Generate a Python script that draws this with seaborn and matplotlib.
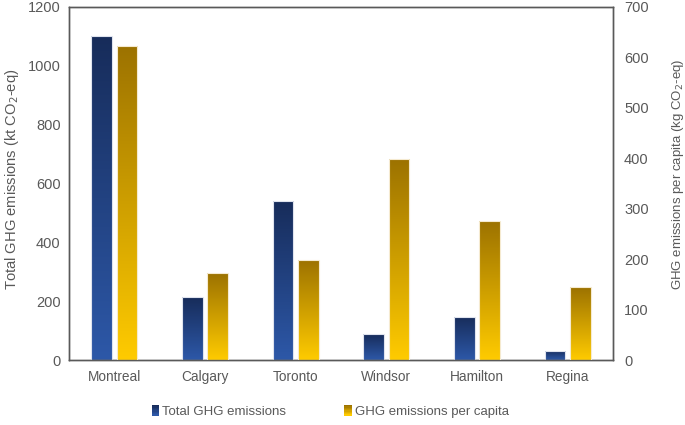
import numpy as np
import pandas as pd
import matplotlib
matplotlib.use("Agg")
import matplotlib.pyplot as plt
import seaborn as sns
from matplotlib.colors import LinearSegmentedColormap
from matplotlib.patches import Rectangle
from matplotlib.legend_handler import HandlerBase

cities = ["Montreal", "Calgary", "Toronto", "Windsor", "Hamilton", "Regina"]
total_ghg = [1100, 213, 541, 87, 147, 32]
per_capita = [623, 172, 199, 399, 276, 144]
series = ["Total GHG emissions", "GHG emissions per capita"]
left_ticks = [0, 200, 400, 600, 800, 1000, 1200]
right_ticks = [0, 100, 200, 300, 400, 500, 600, 700]

blue_top, blue_bot = "#172c5a", "#2d58a8"
gold_top, gold_bot = "#9c7200", "#ffcb00"
txt = "#595959"

sns.set_theme(style="white")
plt.rcParams["font.family"] = ["Liberation Sans", "DejaVu Sans"]

df1 = pd.DataFrame({"city": cities, "value": total_ghg, "series": series[0]})
df2 = pd.DataFrame({"city": cities, "value": per_capita, "series": series[1]})

fig = plt.figure(figsize=(6.85, 4.25), dpi=100)
ax = fig.add_axes([69/685, 1-360/425, (613-69)/685, (360-7)/425])
ax2 = ax.twinx()

sns.barplot(data=df1, x="city", y="value", hue="series", hue_order=series,
            order=cities, width=0.56, gap=0.19, palette=[blue_bot, gold_bot],
            dodge=True, legend=False, ax=ax, errorbar=None)
sns.barplot(data=df2, x="city", y="value", hue="series", hue_order=series,
            order=cities, width=0.56, gap=0.19, palette=[blue_bot, gold_bot],
            dodge=True, legend=False, ax=ax2, errorbar=None)

def gradient_bars(a, top, bot, edge):
    cmap = LinearSegmentedColormap.from_list("g", [top, bot])
    grad = np.linspace(0, 1, 256).reshape(-1, 1)
    for p in list(a.patches):
        x, y = p.get_x(), p.get_y()
        w, h = p.get_width(), p.get_height()
        if h <= 0 or np.isnan(h):
            continue
        im = a.imshow(grad, cmap=cmap, aspect="auto", origin="upper",
                      extent=(x, x + w, y, y + h), zorder=2)
        im.set_clip_path(p)
        p.set_facecolor("none")
        p.set_edgecolor(edge)
        p.set_linewidth(0.8)
        p.set_zorder(3)

gradient_bars(ax, blue_top, blue_bot, "#dfe3ee")
gradient_bars(ax2, gold_top, gold_bot, "#f5ead0")
ax.set_xlim(-0.5, 5.5)
ax.set_ylim(0, 1200)
ax2.set_ylim(0, 700)

ax.set_yticks(left_ticks)
ax2.set_yticks(right_ticks)
ax.set_xlabel("")
ax.set_ylabel("Total GHG emissions (kt CO$_2$-eq)", fontsize=10.6, color=txt, labelpad=5)
ax2.set_ylabel("GHG emissions per capita (kg CO$_2$-eq)", fontsize=9.5, color=txt, labelpad=15)
ax.yaxis.label.set_y(0.513)
ax2.yaxis.label.set_y(0.527)
ax.tick_params(axis="y", labelsize=10.5, colors=txt, length=0, pad=6)
ax.tick_params(axis="x", labelsize=9.8, colors=txt, length=0, pad=7)
ax2.tick_params(axis="y", labelsize=10.5, colors=txt, length=0, pad=8)
for a in (ax, ax2):
    for s in a.spines.values():
        s.set_color("#595959")
        s.set_linewidth(1.0)

class GradHandler(HandlerBase):
    def __init__(self, top, bot):
        super().__init__()
        self.top, self.bot = top, bot
    def create_artists(self, legend, orig, xdescent, ydescent, width, height, fontsize, trans):
        cmap = LinearSegmentedColormap.from_list("g", [self.top, self.bot])
        arts = []
        n = 8
        w = 5.5
        h = 7.5
        x0 = width - w
        y0 = (height - h) / 2
        for i in range(n):
            r = Rectangle((x0, y0 + h * (n - 1 - i) / n), w, h / n + 0.2,
                          facecolor=cmap(i / (n - 1)), edgecolor="none", transform=trans)
            arts.append(r)
        return arts

h1 = Rectangle((0, 0), 1, 1)
h2 = Rectangle((0, 0), 1, 1)
fig.legend([h1, h2], series, loc="center", bbox_to_anchor=(0.481, 1-412/425),
           ncol=2, frameon=False, fontsize=9.5, handlelength=0.7, handletextpad=0.2,
           columnspacing=4.3, labelcolor=txt,
           handler_map={h1: GradHandler(blue_top, blue_bot), h2: GradHandler(gold_top, gold_bot)})

fig.savefig("out.png", dpi=100)
